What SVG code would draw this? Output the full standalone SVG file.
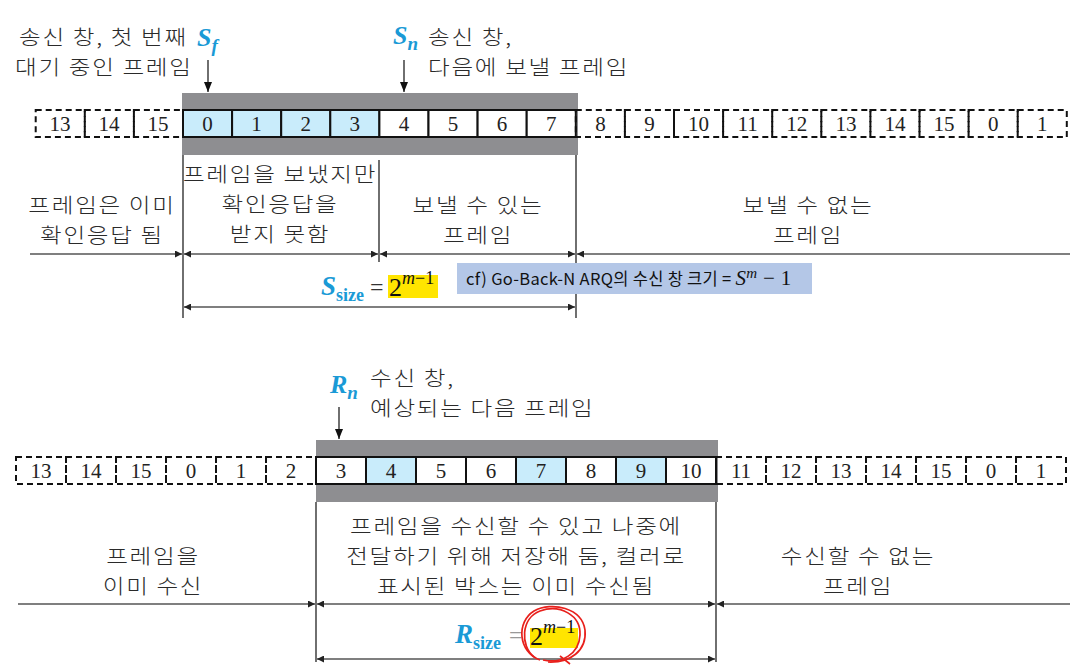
<svg xmlns="http://www.w3.org/2000/svg" width="1082" height="671" viewBox="0 0 1082 671">
<style>
.ko{font-family:"Noto Sans CJK KR","Liberation Sans",sans-serif;font-size:20.5px;fill:#2a2a2a;font-weight:300;letter-spacing:1.5px}
.num{font-family:"Liberation Serif",serif;font-size:21px;fill:#222;text-anchor:middle}
.cell{stroke:#111;stroke-width:2;fill:#fff}
.blue{fill:#c9ecfb}
.dash{stroke:#111;stroke-width:2;fill:none;stroke-dasharray:6 4}
.band{fill:#8e8e91}
.ln{stroke:#555;stroke-width:1.6;fill:none}
.vl{stroke:#333;stroke-width:1.4}
.sym{font-family:"Liberation Serif",serif;font-style:italic;font-weight:bold;fill:#1a9ad6}
.mid{text-anchor:middle}
</style>
<defs>
<marker id="ah" viewBox="0 0 10 10" refX="10" refY="5" markerWidth="7" markerHeight="7" orient="auto-start-reverse" markerUnits="userSpaceOnUse">
<path d="M0,0 L10,5 L0,10 z" fill="#222"/>
</marker>
<marker id="ab" viewBox="0 0 10 10" refX="10" refY="5" markerWidth="10" markerHeight="10" orient="auto" markerUnits="userSpaceOnUse">
<path d="M0,1 L10,5 L0,9 z" fill="#111"/>
</marker>
</defs>

<!-- ===== Sender window ===== -->
<g id="sender-labels">
<text class="ko" transform="translate(19,45) scale(1.15,1)">송신 창, 첫 번째</text>
<text class="ko" transform="translate(15,75) scale(1.15,1)">대기 중인 프레임</text>
<text class="sym" x="197" y="46" font-size="26">S<tspan font-size="19" dy="6">f</tspan></text>
<text class="sym" x="393" y="44" font-size="26">S<tspan font-size="19" dy="6">n</tspan></text>
<text class="ko" transform="translate(428,45) scale(1.15,1)">송신 창,</text>
<text class="ko" transform="translate(428,75) scale(1.15,1)">다음에 보낼 프레임</text>
</g>

<g id="sender-window">
<rect class="band" x="182" y="93" width="396" height="62"/>
<g id="s-dash-left">
<rect class="dash" x="35.7" y="110" width="49.1" height="27"/>
<rect class="dash" x="84.8" y="110" width="49.1" height="27"/>
<rect class="dash" x="133.9" y="110" width="49.1" height="27"/>
<text class="num" x="60" y="131">13</text>
<text class="num" x="109" y="131">14</text>
<text class="num" x="158" y="131">15</text>
</g>
<g id="s-cells">
<rect class="cell blue" x="183" y="110" width="49.1" height="27"/>
<rect class="cell blue" x="232.1" y="110" width="49.1" height="27"/>
<rect class="cell blue" x="281.2" y="110" width="49.1" height="27"/>
<rect class="cell blue" x="330.3" y="110" width="49.1" height="27"/>
<rect class="cell" x="379.4" y="110" width="49.1" height="27"/>
<rect class="cell" x="428.5" y="110" width="49.1" height="27"/>
<rect class="cell" x="477.6" y="110" width="49.1" height="27"/>
<rect class="cell" x="526.7" y="110" width="49.1" height="27"/>
<text class="num" x="207.5" y="131">0</text>
<text class="num" x="256.6" y="131">1</text>
<text class="num" x="305.7" y="131">2</text>
<text class="num" x="354.8" y="131">3</text>
<text class="num" x="403.9" y="131">4</text>
<text class="num" x="453" y="131">5</text>
<text class="num" x="502.1" y="131">6</text>
<text class="num" x="551.2" y="131">7</text>
</g>
<g id="s-dash-right">
<rect class="dash" x="575.8" y="110" width="49.1" height="27"/>
<rect class="dash" x="624.9" y="110" width="49.1" height="27"/>
<rect class="dash" x="674" y="110" width="49.1" height="27"/>
<rect class="dash" x="723.1" y="110" width="49.1" height="27"/>
<rect class="dash" x="772.2" y="110" width="49.1" height="27"/>
<rect class="dash" x="821.3" y="110" width="49.1" height="27"/>
<rect class="dash" x="870.4" y="110" width="49.1" height="27"/>
<rect class="dash" x="919.5" y="110" width="49.1" height="27"/>
<rect class="dash" x="968.6" y="110" width="49.1" height="27"/>
<rect class="dash" x="1017.7" y="110" width="49.1" height="27"/>
<text class="num" x="600.4" y="131">8</text>
<text class="num" x="649.5" y="131">9</text>
<text class="num" x="698.6" y="131">10</text>
<text class="num" x="747.7" y="131">11</text>
<text class="num" x="796.8" y="131">12</text>
<text class="num" x="845.9" y="131">13</text>
<text class="num" x="895" y="131">14</text>
<text class="num" x="944.1" y="131">15</text>
<text class="num" x="993.2" y="131">0</text>
<text class="num" x="1042.3" y="131">1</text>
</g>
</g>

<g id="sender-regions">
<text class="ko mid" transform="translate(102,213) scale(1.15,1)">프레임은 이미</text>
<text class="ko mid" transform="translate(102,243) scale(1.15,1)">확인응답 됨</text>
<text class="ko mid" transform="translate(280,182) scale(1.15,1)">프레임을 보냈지만</text>
<text class="ko mid" transform="translate(280,212) scale(1.15,1)">확인응답을</text>
<text class="ko mid" transform="translate(280,242) scale(1.15,1)">받지 못함</text>
<text class="ko mid" transform="translate(478,213) scale(1.15,1)">보낼 수 있는</text>
<text class="ko mid" transform="translate(478,243) scale(1.15,1)">프레임</text>
<text class="ko mid" transform="translate(808,213) scale(1.15,1)">보낼 수 없는</text>
<text class="ko mid" transform="translate(808,243) scale(1.15,1)">프레임</text>
</g>

<g id="sender-size">
<rect x="388" y="275" width="50" height="23" fill="#ffe500"/>
<text class="sym" x="321" y="295" font-size="27">S<tspan font-size="18" dy="6" font-style="normal">size</tspan></text>
<text x="370" y="295" font-family="Liberation Serif,serif" font-size="24" fill="#333">=</text>
<text x="389" y="296" font-family="Liberation Serif,serif" font-size="26" fill="#111">2<tspan font-size="18" dy="-12" font-style="italic">m</tspan><tspan font-size="18">−1</tspan></text>
</g>

<!-- ===== Receiver window ===== -->
<g id="receiver-labels">
<text class="sym" x="330" y="393" font-size="26">R<tspan font-size="19" dy="6">n</tspan></text>
<text class="ko" transform="translate(370,386) scale(1.15,1)">수신 창,</text>
<text class="ko" transform="translate(370,416) scale(1.15,1)">예상되는 다음 프레임</text>
</g>

<g id="receiver-window">
<rect class="band" x="316" y="440" width="402" height="62"/>
<g id="r-dash-left">
<rect class="dash" x="16" y="457" width="50" height="27"/>
<rect class="dash" x="66" y="457" width="50" height="27"/>
<rect class="dash" x="116" y="457" width="50" height="27"/>
<rect class="dash" x="166" y="457" width="50" height="27"/>
<rect class="dash" x="216" y="457" width="50" height="27"/>
<rect class="dash" x="266" y="457" width="50" height="27"/>
<text class="num" x="41" y="478">13</text>
<text class="num" x="91" y="478">14</text>
<text class="num" x="141" y="478">15</text>
<text class="num" x="191" y="478">0</text>
<text class="num" x="241" y="478">1</text>
<text class="num" x="291" y="478">2</text>
</g>
<g id="r-cells">
<rect class="cell" x="316" y="457" width="50" height="27"/>
<rect class="cell blue" x="366" y="457" width="50" height="27"/>
<rect class="cell" x="416" y="457" width="50" height="27"/>
<rect class="cell" x="466" y="457" width="50" height="27"/>
<rect class="cell blue" x="516" y="457" width="50" height="27"/>
<rect class="cell" x="566" y="457" width="50" height="27"/>
<rect class="cell blue" x="616" y="457" width="50" height="27"/>
<rect class="cell" x="666" y="457" width="50" height="27"/>
<text class="num" x="341" y="478">3</text>
<text class="num" x="391" y="478">4</text>
<text class="num" x="441" y="478">5</text>
<text class="num" x="491" y="478">6</text>
<text class="num" x="541" y="478">7</text>
<text class="num" x="591" y="478">8</text>
<text class="num" x="641" y="478">9</text>
<text class="num" x="691" y="478">10</text>
</g>
<g id="r-dash-right">
<rect class="dash" x="716" y="457" width="50" height="27"/>
<rect class="dash" x="766" y="457" width="50" height="27"/>
<rect class="dash" x="816" y="457" width="50" height="27"/>
<rect class="dash" x="866" y="457" width="50" height="27"/>
<rect class="dash" x="916" y="457" width="50" height="27"/>
<rect class="dash" x="966" y="457" width="50" height="27"/>
<rect class="dash" x="1016" y="457" width="50" height="27"/>
<text class="num" x="741" y="478">11</text>
<text class="num" x="791" y="478">12</text>
<text class="num" x="841" y="478">13</text>
<text class="num" x="891" y="478">14</text>
<text class="num" x="941" y="478">15</text>
<text class="num" x="991" y="478">0</text>
<text class="num" x="1041" y="478">1</text>
</g>
</g>

<g id="receiver-regions">
<text class="ko mid" transform="translate(153,564) scale(1.15,1)">프레임을</text>
<text class="ko mid" transform="translate(153,594) scale(1.15,1)">이미 수신</text>
<text class="ko mid" transform="translate(516,534) scale(1.15,1)">프레임을 수신할 수 있고 나중에</text>
<text class="ko mid" transform="translate(516,564) scale(1.15,1)">전달하기 위해 저장해 둠, 컬러로</text>
<text class="ko mid" transform="translate(516,594) scale(1.15,1)">표시된 박스는 이미 수신됨</text>
<text class="ko mid" transform="translate(858,564) scale(1.15,1)">수신할 수 없는</text>
<text class="ko mid" transform="translate(858,594) scale(1.15,1)">프레임</text>
</g>

<g id="connectors">
<line class="vl" x1="208" y1="60" x2="208" y2="92" marker-end="url(#ab)"/>
<line class="vl" x1="404" y1="60" x2="404" y2="92" marker-end="url(#ab)"/>
<line class="vl" x1="339" y1="407" x2="339" y2="439" marker-end="url(#ab)"/>
<line class="vl" x1="183" y1="155" x2="183" y2="318"/>
<line class="vl" x1="379" y1="160" x2="379" y2="262"/>
<line class="vl" x1="576" y1="155" x2="576" y2="318"/>
<line class="ln" x1="30" y1="254" x2="182" y2="254" marker-end="url(#ah)"/>
<line class="ln" x1="184" y1="254" x2="378" y2="254" marker-start="url(#ah)" marker-end="url(#ah)"/>
<line class="ln" x1="380" y1="254" x2="575" y2="254" marker-start="url(#ah)" marker-end="url(#ah)"/>
<line class="ln" x1="577" y1="254" x2="1070" y2="254" marker-start="url(#ah)"/>
<line class="ln" x1="184" y1="307" x2="575" y2="307" marker-start="url(#ah)" marker-end="url(#ah)"/>
<line class="vl" x1="316" y1="502" x2="316" y2="662"/>
<line class="vl" x1="716" y1="502" x2="716" y2="662"/>
<line class="ln" x1="18" y1="604" x2="315" y2="604" marker-end="url(#ah)"/>
<line class="ln" x1="317" y1="604" x2="715" y2="604" marker-start="url(#ah)" marker-end="url(#ah)"/>
<line class="ln" x1="717" y1="604" x2="1070" y2="604" marker-start="url(#ah)"/>
<line class="ln" x1="317" y1="659" x2="715" y2="659" marker-start="url(#ah)" marker-end="url(#ah)"/>
</g>

<g id="note">
<rect x="457" y="263" width="355" height="31" fill="#b4c7e7"/>
<text x="466" y="285" font-family="Noto Sans CJK KR,sans-serif" font-size="16.5" fill="#111" letter-spacing="0.3">cf) Go-Back-N ARQ의 수신 창 크기 = <tspan font-family="Liberation Serif,serif" font-style="italic" font-size="21">S</tspan><tspan font-family="Liberation Serif,serif" font-style="italic" font-size="15" dy="-7">m</tspan><tspan font-family="Liberation Serif,serif" font-size="21" dy="7"> − 1</tspan></text>
</g>

<g id="receiver-size">
<rect x="530" y="628" width="48" height="20" fill="#ffe500"/>
<text class="sym" x="455" y="643" font-size="27">R<tspan font-size="18" dy="6" font-style="normal">size</tspan></text>
<text x="509" y="643" font-family="Liberation Serif,serif" font-size="24" fill="#999">=</text>
<text x="530" y="645" font-family="Liberation Serif,serif" font-size="26" fill="#111">2<tspan font-size="18" dy="-12" font-style="italic">m</tspan><tspan font-size="18">−1</tspan></text>
<g fill="none" stroke="#e8201c" stroke-width="1.7">
<path d="M540,660 C518,652 516,622 534,611 C552,601 582,608 585,630 C587,651 570,663 548,662"/>
<path d="M534,657 C520,646 521,618 540,611 C560,604 581,615 580,635 C579,654 562,664 543,660"/>
<path d="M560,656 L570,664"/>
</g>
</g>
</svg>
